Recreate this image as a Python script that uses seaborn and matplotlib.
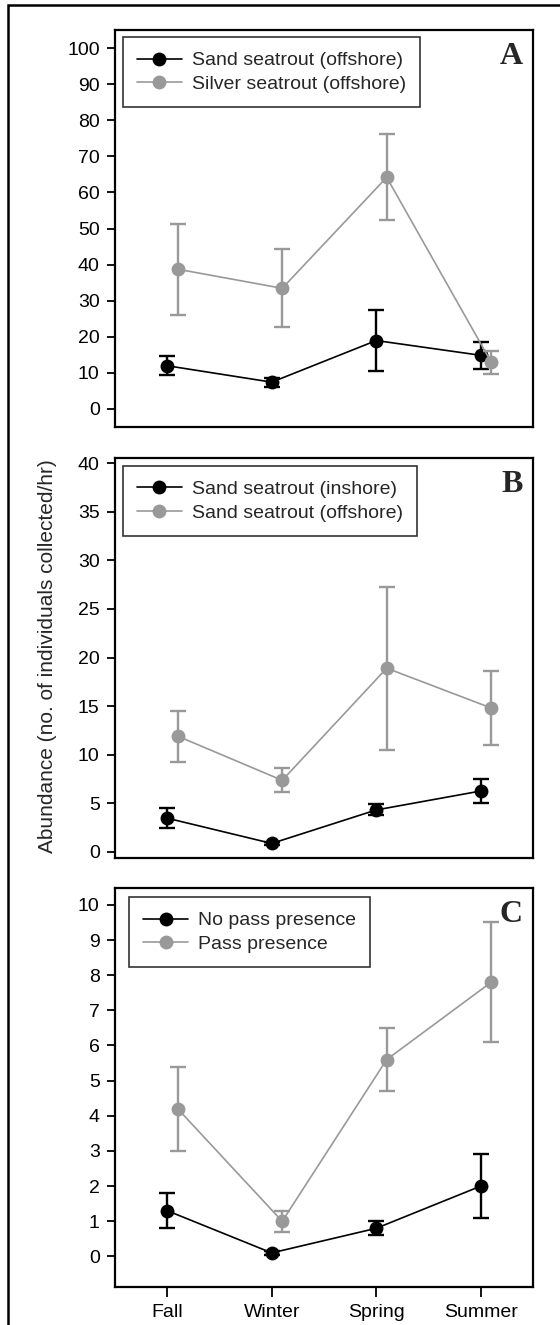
import matplotlib
matplotlib.use("Agg")
from matplotlib import pyplot as plt
from matplotlib.patches import Rectangle
import numpy as np
import pandas as pd
import seaborn as sns

# seasons on the x axis
seasons = ["Fall", "Winter", "Spring", "Summer"]

# panel A: offshore trawls
a_sand_off = [11.9, 7.35, 18.9, 14.8]
a_sand_off_lo = [9.2, 6.1, 10.5, 11.0]
a_sand_off_hi = [14.5, 8.6, 27.3, 18.6]
a_silver_off = [38.7, 33.4, 64.2, 12.9]
a_silver_off_lo = [26.1, 22.6, 52.3, 9.7]
a_silver_off_hi = [51.2, 44.2, 76.2, 16.0]

# panel B: sand seatrout inshore vs offshore
b_sand_in = [3.45, 0.85, 4.3, 6.25]
b_sand_in_lo = [2.45, 0.7, 3.75, 5.0]
b_sand_in_hi = [4.45, 1.0, 4.9, 7.45]
b_sand_off = [11.9, 7.35, 18.9, 14.8]
b_sand_off_lo = [9.2, 6.1, 10.5, 11.0]
b_sand_off_hi = [14.5, 8.6, 27.3, 18.6]

# panel C: pass presence
c_no_pass = [1.3, 0.1, 0.8, 2.0]
c_no_pass_lo = [0.8, 0.05, 0.6, 1.1]
c_no_pass_hi = [1.8, 0.15, 1.0, 2.9]
c_pass = [4.2, 1.0, 5.6, 7.8]
c_pass_lo = [3.0, 0.7, 4.7, 6.1]
c_pass_hi = [5.4, 1.3, 6.5, 9.5]

BLACK = "#000000"
GREY = "#999999"

sns.set_theme(style="ticks")
plt.rcParams["font.family"] = ["Liberation Sans", "DejaVu Sans"]


def draw_series(ax, vals, lo, hi, color, label, offset):
     '''one series: error bars + line with round markers'''
     x = np.arange(len(seasons)) + offset
     vals = np.asarray(vals)
     yerr = [vals - np.asarray(lo), np.asarray(hi) - vals]
     ax.errorbar(x, vals, yerr=yerr, fmt="none", ecolor=color,
                 elinewidth=1.7, capsize=5.5, capthick=1.7)
     df = pd.DataFrame({"x": x, "y": vals})
     sns.lineplot(data=df, x="x", y="y", color=color, marker="o",
                  markersize=10, markeredgewidth=0, linewidth=1.2,
                  errorbar=None, label=label, ax=ax)


def style_panel(ax, ylim, yticks, letter, leg_anchor, show_x=False):
     ax.set_xlim(-0.5, 3.5)
     ax.set_ylim(*ylim)
     ax.set_yticks(yticks)
     ax.set_xlabel("")
     ax.set_ylabel("")
     for s in ax.spines.values():
          s.set_visible(True)
          s.set_linewidth(1.6)
          s.set_color("black")
     ax.tick_params(axis="y", direction="out", length=6, width=1.3,
                    labelsize=14, pad=5, colors="black")
     if show_x:
          ax.set_xticks(range(len(seasons)))
          ax.set_xticklabels(seasons)
          ax.tick_params(axis="x", direction="out", length=7.5, width=1.3,
                         labelsize=14, pad=5, colors="black")
     else:
          ax.set_xticks([])
     ax.text(0.975, 0.97, letter, transform=ax.transAxes, ha="right", va="top",
             fontsize=23, fontweight="bold", family="Liberation Serif")
     leg = ax.legend(loc="upper left", bbox_to_anchor=leg_anchor, borderaxespad=0,
                     frameon=True, fancybox=False, edgecolor="black",
                     fontsize=14, handlelength=2.3, handletextpad=0.5,
                     labelspacing=0.3, borderpad=0.75)
     leg.get_frame().set_linewidth(1.2)


fig = plt.figure(figsize=(5.6, 13.25), dpi=100)
W, H = 560.0, 1325.0


def panel(top, bottom):
     return fig.add_axes([115 / W, 1 - bottom / H, 418 / W, (bottom - top) / H])


axA = panel(30, 427)
draw_series(axA, a_sand_off, a_sand_off_lo, a_sand_off_hi, BLACK, "Sand seatrout (offshore)", 0.0)
draw_series(axA, a_silver_off, a_silver_off_lo, a_silver_off_hi, GREY, "Silver seatrout (offshore)", 0.1)
style_panel(axA, (-5.1, 105.1), range(0, 101, 10), "A", (0.018, 0.982))

axB = panel(458, 858)
draw_series(axB, b_sand_in, b_sand_in_lo, b_sand_in_hi, BLACK, "Sand seatrout (inshore)", 0.0)
draw_series(axB, b_sand_off, b_sand_off_lo, b_sand_off_hi, GREY, "Sand seatrout (offshore)", 0.1)
style_panel(axB, (-0.65, 40.55), range(0, 41, 5), "B", (0.018, 0.98))

axC = panel(888, 1287)
draw_series(axC, c_no_pass, c_no_pass_lo, c_no_pass_hi, BLACK, "No pass presence", 0.0)
draw_series(axC, c_pass, c_pass_lo, c_pass_hi, GREY, "Pass presence", 0.1)
style_panel(axC, (-0.87, 10.48), range(0, 11), "C", (0.033, 0.977), show_x=True)

fig.text(48 / W, 1 - 656 / H, "Abundance (no. of individuals collected/hr)",
         rotation=90, ha="center", va="center", fontsize=15)

# outer frame, right/bottom edges fall outside the image
fig.add_artist(Rectangle((8 / W, -0.05), 1.2, 1.05 - 5 / H, transform=fig.transFigure,
                         fill=False, edgecolor="black", linewidth=1.8, clip_on=False))

fig.savefig("out.png", dpi=100)
